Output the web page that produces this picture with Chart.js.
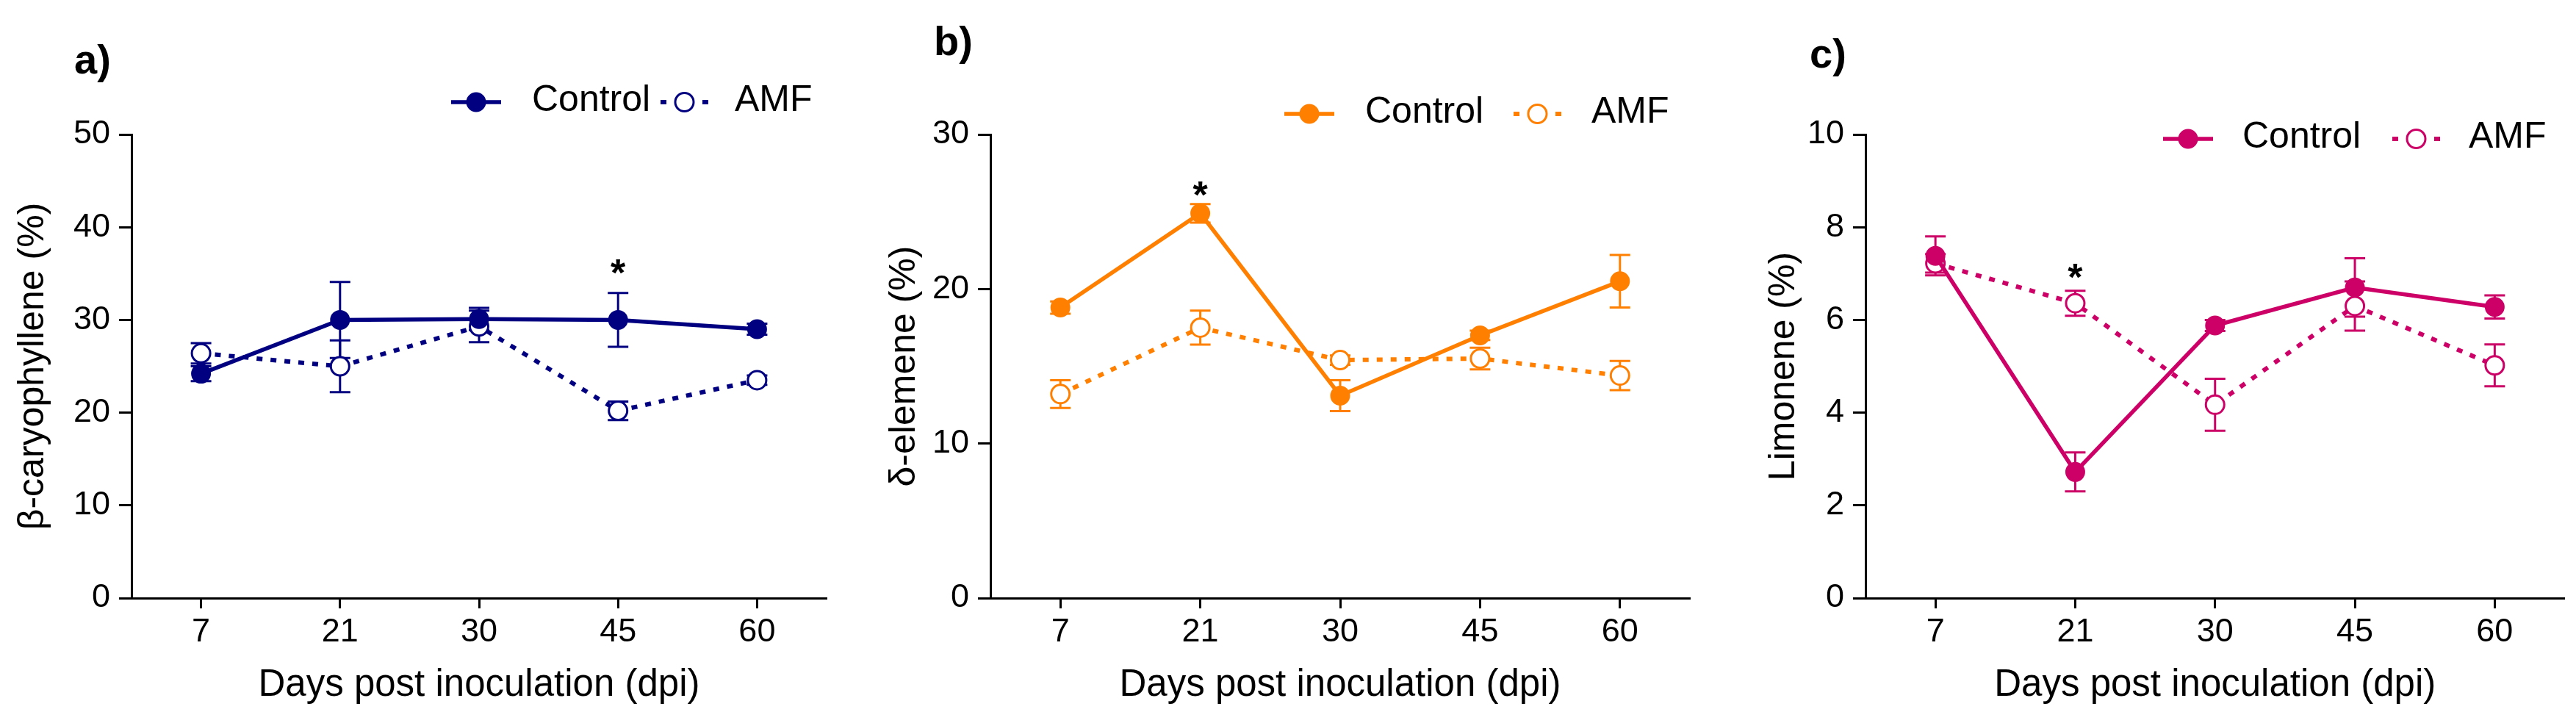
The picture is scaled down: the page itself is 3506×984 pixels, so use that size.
<!DOCTYPE html>
<html><head><meta charset="utf-8">
<script src="https://cdn.jsdelivr.net/npm/chart.js@4.4.1/dist/chart.umd.min.js"></script>
<style>
html,body{margin:0;padding:0;background:#fff;}
#wrap{position:relative;width:3506px;height:984px;overflow:hidden;background:#fff;}
canvas{position:absolute;top:0;}
</style></head><body>
<div id="wrap">
<canvas id="ca" width="1168" height="984" style="left:0px;width:1168px;height:984px"></canvas>
<canvas id="cb" width="1168" height="984" style="left:1168px;width:1168px;height:984px"></canvas>
<canvas id="cc" width="1170" height="984" style="left:2336px;width:1170px;height:984px"></canvas>
</div>
<script>
// ---------- data ----------
const days = ['7', '21', '30', '45', '60'];
const seriesNames = ['Control', 'AMF'];

const caryControl    = [24.2, 30.0, 30.1, 30.0, 29.0];
const caryControlErr = [0.8, 4.1, 1.2, 2.9, 0.6];
const caryAMF        = [26.4, 25.0, 29.3, 20.2, 23.5];
const caryAMFErr     = [1.1, 2.8, 1.7, 1.0, 0.5];

const elemControl    = [18.8, 24.9, 13.1, 17.0, 20.5];
const elemControlErr = [0.4, 0.6, 1.0, 0.3, 1.7];
const elemAMF        = [13.2, 17.5, 15.4, 15.5, 14.4];
const elemAMFErr     = [0.9, 1.1, 0.3, 0.7, 0.95];

const limoControl    = [7.38, 2.72, 5.88, 6.70, 6.28];
const limoControlErr = [0.42, 0.42, 0.12, 0.63, 0.25];
const limoAMF        = [7.22, 6.36, 4.17, 6.30, 5.02];
const limoAMFErr     = [0.2, 0.27, 0.56, 0.53, 0.45];

// significance markers: [category index, y value]
const caryStars = [[3, 36.1]];
const elemStars = [[1, 26.7]];
const limoStars = [[1, 7.12]];

const yMaxes = [50, 30, 10];
const ySteps = [10, 10, 2];
const yTitles = ['β-caryophyllene (%)', 'δ-elemene (%)', 'Limonene (%)'];
const xTitle = 'Days post inoculation (dpi)';
const panelLetters = ['a)', 'b)', 'c)'];

// ---------- styling ----------
const FONT = '"Liberation Sans", Arial, Helvetica, sans-serif';
const colors = ['#000080', '#FF8000', '#CC0066'];

const extrasPlugin = {
  id: 'extras',
  beforeDatasetsDraw(chart, args, opts) {
    const ctx = chart.ctx, xs = chart.scales.x, ys = chart.scales.y;
    chart.data.datasets.forEach(ds => {
      const errs = ds.errors; if (!errs) return;
      ctx.save();
      ctx.strokeStyle = ds.borderColor; ctx.lineWidth = 3; ctx.setLineDash([]);
      const cap = 14;
      ds.data.forEach((v, i) => {
        const px = xs.getPixelForValue(i);
        const t = ys.getPixelForValue(v + errs[i]);
        const b = ys.getPixelForValue(v - errs[i]);
        ctx.beginPath();
        ctx.moveTo(px, t); ctx.lineTo(px, b);
        ctx.moveTo(px - cap, t); ctx.lineTo(px + cap, t);
        ctx.moveTo(px - cap, b); ctx.lineTo(px + cap, b);
        ctx.stroke();
      });
      ctx.restore();
    });
  },
  afterDraw(chart, args, opts) {
    const ctx = chart.ctx, xs = chart.scales.x, ys = chart.scales.y;
    ctx.save();
    // panel letter
    ctx.fillStyle = '#000';
    ctx.font = 'bold 56px ' + FONT;
    ctx.textAlign = 'left'; ctx.textBaseline = 'middle';
    ctx.fillText(opts.letter, opts.letterX, opts.letterY);
    // stars
    ctx.font = 'bold 52px ' + FONT;
    ctx.textAlign = 'center'; ctx.textBaseline = 'alphabetic';
    (opts.stars || []).forEach(([i, v]) => {
      const px = xs.getPixelForValue(i), py = ys.getPixelForValue(v);
      ctx.fillText('*', px, py + 0.58 * 52);
    });
    // legend
    const L = opts.legend, c = opts.color;
    const dsC = chart.data.datasets[0], dsA = chart.data.datasets[1];
    // control sample
    ctx.strokeStyle = c; ctx.lineWidth = dsC.borderWidth; ctx.setLineDash([]);
    ctx.beginPath(); ctx.moveTo(L.x, L.y); ctx.lineTo(L.x + 68, L.y); ctx.stroke();
    ctx.fillStyle = c; ctx.beginPath(); ctx.arc(L.x + 34, L.y, 13.5, 0, Math.PI * 2); ctx.fill();
    // AMF sample
    ctx.lineWidth = dsA.borderWidth; ctx.setLineDash(dsA.borderDash); ctx.lineCap = 'butt';
    ctx.beginPath(); ctx.moveTo(L.ax, L.y); ctx.lineTo(L.ax + 65, L.y); ctx.stroke();
    ctx.setLineDash([]);
    ctx.fillStyle = '#fff'; ctx.lineWidth = 3;
    ctx.beginPath(); ctx.arc(L.ax + 32.5, L.y, 12.5, 0, Math.PI * 2); ctx.fill(); ctx.stroke();
    // texts
    ctx.fillStyle = '#000'; ctx.font = '50px ' + FONT;
    ctx.textAlign = 'left'; ctx.textBaseline = 'middle';
    ctx.fillText(dsC.label, L.tx, L.y - 2);
    ctx.fillText(dsA.label, L.atx, L.y - 2);
    ctx.restore();
  }
};

function makeChart(id, idx, ctrl, ctrlErr, amf, amfErr, stars, yAxisW, padRight, yTitlePad, letterPos, legend) {
  const col = colors[idx];
  return new Chart(document.getElementById(id), {
    type: 'line',
    data: {
      labels: days,
      datasets: [
        { label: seriesNames[0], data: ctrl, errors: ctrlErr,
          borderColor: col, backgroundColor: col, borderWidth: 5.5,
          pointRadius: 12, pointBorderWidth: 3, pointBackgroundColor: col, pointBorderColor: col,
          tension: 0, fill: false },
        { label: seriesNames[1], data: amf, errors: amfErr,
          borderColor: col, backgroundColor: '#fff', borderWidth: 6, borderDash: [8, 11], borderCapStyle: 'butt',
          pointRadius: 12.5, pointBorderWidth: 3, pointBackgroundColor: '#fff', pointBorderColor: col,
          tension: 0, fill: false }
      ]
    },
    options: {
      responsive: false, animation: false, devicePixelRatio: 1, events: [],
      layout: { padding: { left: 0, right: padRight, top: 183, bottom: 0 } },
      plugins: {
        legend: { display: false }, tooltip: { enabled: false },
        extras: { letter: panelLetters[idx], letterX: letterPos[0], letterY: letterPos[1],
                  stars: stars, legend: legend, color: col }
      },
      scales: {
        x: {
          type: 'category', offset: true,
          grid: { display: true, drawOnChartArea: false, drawTicks: true, tickLength: 14, tickWidth: 3, tickColor: '#000' },
          border: { display: true, width: 3, color: '#000' },
          ticks: { color: '#000', font: { family: FONT, size: 45 }, padding: 6, maxRotation: 0 },
          title: { display: true, text: xTitle, color: '#000', font: { family: FONT, size: 51 }, padding: { top: 0, bottom: 20 } },
          afterFit: s => { s.height = 170; }
        },
        y: {
          min: 0, max: yMaxes[idx],
          ticks: { stepSize: ySteps[idx], color: '#000', font: { family: FONT, size: 45 }, padding: 12 },
          grid: { display: true, drawOnChartArea: false, drawTicks: true, tickLength: 17, tickWidth: 3, tickColor: '#000' },
          border: { display: true, width: 3, color: '#000' },
          title: { display: true, text: yTitles[idx], color: '#000', font: { family: FONT, size: 50 }, padding: { top: yTitlePad, bottom: 0 } },
          afterFit: s => { s.width = yAxisW; }
        }
      }
    },
    plugins: [extrasPlugin]
  });
}

makeChart('ca', 0, caryControl, caryControlErr, caryAMF, caryAMFErr, caryStars,
  179, 43, 15, [101, 85], { x: 614, y: 139, tx: 724, ax: 899, atx: 1000 });
makeChart('cb', 1, elemControl, elemControlErr, elemAMF, elemAMFErr, elemStars,
  180, 36, 33, [103, 60], { x: 1748 - 1168, y: 155, tx: 1858 - 1168, ax: 2060 - 1168, atx: 2166 - 1168 });
makeChart('cc', 2, limoControl, limoControlErr, limoAMF, limoAMFErr, limoStars,
  203, 15, 62, [127, 77], { x: 2944 - 2336, y: 189, tx: 3052 - 2336, ax: 3256 - 2336, atx: 3360 - 2336 });
</script>
</body></html>
